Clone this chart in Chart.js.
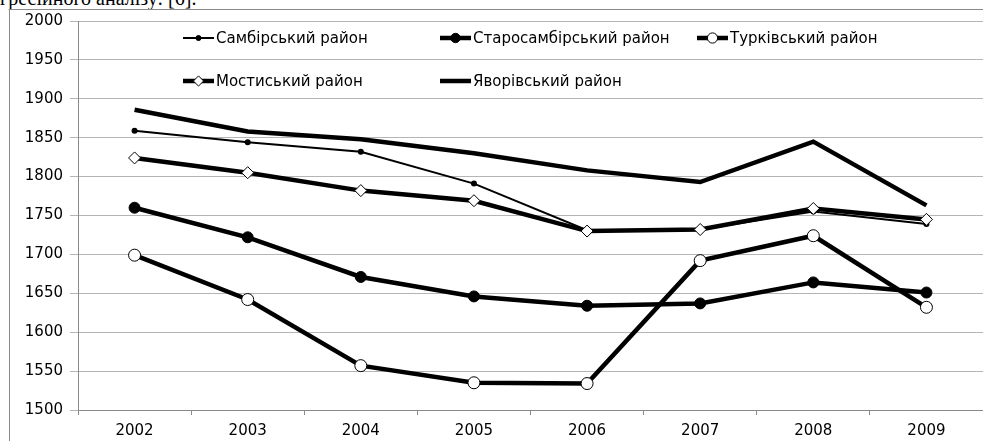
<!DOCTYPE html>
<html>
<head>
<meta charset="utf-8">
<script src="https://cdn.jsdelivr.net/npm/chart.js@4.4.1/dist/chart.umd.min.js"></script>
<style>
  html, body { margin: 0; padding: 0; background: #fff; overflow: hidden; }
  #wrap { position: relative; width: 983px; height: 441px; }
  #caption {
    position: absolute; left: 0; top: -13px;
    font-family: "Liberation Serif", "Times New Roman", serif;
    font-size: 20px; color: #000; white-space: nowrap;
  }
  #frame {
    position: absolute; left: 9px; top: 9px; width: 1000px; height: 460px;
    border-left: 1px solid #8a8a8a; border-top: 1px solid #8a8a8a;
  }
  #c { position: absolute; left: 0; top: 0; }
</style>
</head>
<body>
<div id="wrap">
  <div id="caption">гресійного аналізу: [6].</div>
  <div id="frame"></div>
  <canvas id="c" width="983" height="441"></canvas>
</div>
<script>
// Years on the category axis
const years = ['2002', '2003', '2004', '2005', '2006', '2007', '2008', '2009'];

// District names (legend order)
const names = ['Самбірський район', 'Старосамбірський район', 'Турківський район',
               'Мостиський район', 'Яворівський район'];

// Values per district
const sambir      = [1859, 1844, 1832, 1791, 1731, 1732, 1755, 1739];
const staroSambir = [1760, 1722, 1671, 1646, 1634, 1637, 1664, 1651];
const turka       = [1699, 1642, 1557, 1535, 1534, 1692, 1724, 1632];
const mostyska    = [1824, 1805, 1782, 1769, 1730, 1732, 1759, 1745];
const yavoriv     = [1886, 1858, 1848, 1830, 1808, 1793, 1845, 1763];

// Y axis range
const yMin = 1500, yMax = 2000, yStep = 50;

const FONT = 'DejaVu Sans';

const datasets = [
  { label: names[0], data: sambir, borderColor: '#000', backgroundColor: '#000',
    borderWidth: 2, pointStyle: 'circle', pointRadius: 3, pointBorderWidth: 0,
    pointBackgroundColor: '#000', order: 5 },
  { label: names[1], data: staroSambir, borderColor: '#000', backgroundColor: '#000',
    borderWidth: 4.5, pointStyle: 'circle', pointRadius: 5.5, pointBorderWidth: 1,
    pointBackgroundColor: '#000', order: 4 },
  { label: names[2], data: turka, borderColor: '#000', backgroundColor: '#fff',
    borderWidth: 4.5, pointStyle: 'circle', pointRadius: 6, pointBorderWidth: 1,
    pointBackgroundColor: '#fff', pointBorderColor: '#000', order: 3 },
  { label: names[3], data: mostyska, borderColor: '#000', backgroundColor: '#fff',
    borderWidth: 4.5, pointStyle: 'rectRot', pointRadius: 6, pointBorderWidth: 1,
    pointBackgroundColor: '#fff', pointBorderColor: '#000', order: 2 },
  { label: names[4], data: yavoriv, borderColor: '#000', backgroundColor: '#000',
    borderWidth: 4.5, pointStyle: false, pointRadius: 0, order: 1 }
];

// Legend drawn inside the plot area, in a fixed two-row grid
const gridLegend = {
  id: 'gridLegend',
  afterDraw(chart, args, opts) {
    const ctx = chart.ctx;
    ctx.save();
    chart.data.datasets.forEach((ds, i) => {
      const pos = opts.slots[i];
      const x0 = pos[0], y = pos[1];
      const x1 = x0 + opts.sampleWidth;
      ctx.strokeStyle = ds.borderColor;
      ctx.lineWidth = ds.borderWidth;
      ctx.beginPath();
      ctx.moveTo(x0, y);
      ctx.lineTo(x1, y);
      ctx.stroke();
      if (ds.pointStyle) {
        ctx.lineWidth = ds.pointBorderWidth || 1;
        ctx.fillStyle = ds.pointBackgroundColor;
        ctx.strokeStyle = ds.pointBorderColor || '#000';
        Chart.helpers.drawPoint(ctx, {
          pointStyle: ds.pointStyle,
          radius: ds.pointRadius * opts.markerScale,
          borderWidth: ds.pointBorderWidth || 1,
          rotation: 0
        }, (x0 + x1) / 2, y);
      }
      ctx.fillStyle = '#000';
      ctx.font = opts.font;
      ctx.textBaseline = 'middle';
      ctx.textAlign = 'left';
      ctx.fillText(ds.label, x1 + 2, y + 1);
    });
    ctx.restore();
  }
};

new Chart(document.getElementById('c'), {
  type: 'line',
  data: { labels: years, datasets },
  plugins: [gridLegend],
  options: {
    responsive: false,
    animation: false,
    layout: { autoPadding: false, padding: { left: 0, right: 0, top: 21, bottom: 0 } },
    elements: { line: { tension: 0, borderJoinStyle: 'miter' } },
    plugins: {
      legend: { display: false },
      tooltip: { enabled: false },
      gridLegend: {
        slots: [[183, 38], [440, 38], [697, 38], [183, 81], [440, 81]],
        sampleWidth: 31,
        markerScale: 0.85,
        font: '15px "' + FONT + '"'
      }
    },
    scales: {
      x: {
        offset: true,
        grid: { display: true, drawOnChartArea: false, drawTicks: true, tickLength: 5,
                offset: true, color: '#8a8a8a' },
        border: { display: true, color: '#8a8a8a', width: 1 },
        ticks: { color: '#000', font: { family: FONT, size: 15 }, padding: 7,
                 maxRotation: 0 },
        afterFit(s) { s.height = 31; }
      },
      y: {
        min: yMin, max: yMax,
        grid: { color: '#b5b5b5', tickLength: 8, drawTicks: true },
        border: { display: true, color: '#8a8a8a', width: 1 },
        ticks: { stepSize: yStep, color: '#000', font: { family: FONT, size: 15 }, padding: 7,
                 callback: v => String(v) },
        afterFit(s) { s.width = 78; }
      }
    }
  }
});
</script>
</body>
</html>
